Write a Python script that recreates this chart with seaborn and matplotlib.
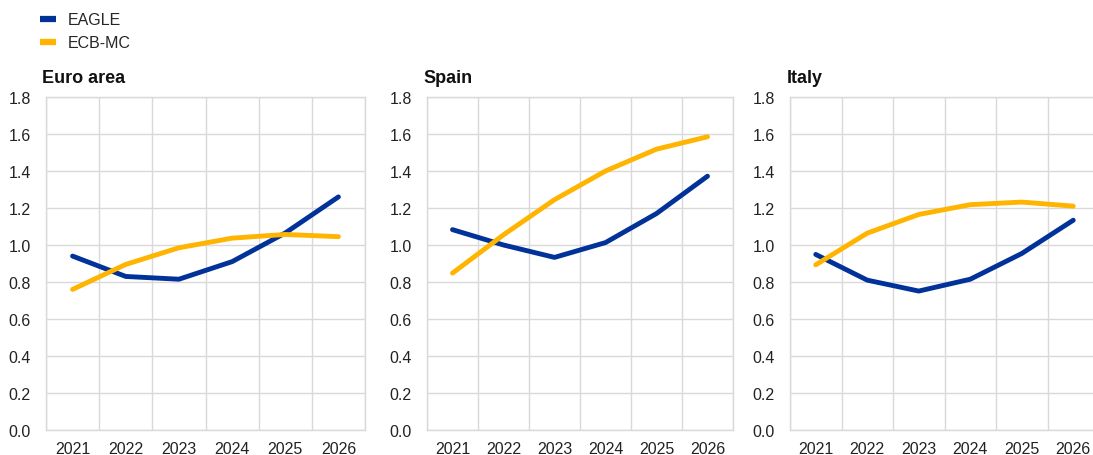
import matplotlib
matplotlib.use("Agg")
import matplotlib.pyplot as plt
import seaborn as sns
import pandas as pd
from matplotlib.ticker import FixedLocator
from matplotlib.lines import Line2D

years = ["2021", "2022", "2023", "2024", "2025", "2026"]
panels = ["Euro area", "Spain", "Italy"]
series_names = ["EAGLE", "ECB-MC"]

euro_eagle = [0.94, 0.83, 0.815, 0.91, 1.065, 1.26]
euro_ecbmc = [0.76, 0.895, 0.985, 1.037, 1.057, 1.045]
spain_eagle = [1.083, 1.0, 0.933, 1.013, 1.17, 1.372]
spain_ecbmc = [0.848, 1.055, 1.245, 1.40, 1.518, 1.585]
italy_eagle = [0.949, 0.81, 0.751, 0.815, 0.954, 1.134]
italy_ecbmc = [0.893, 1.064, 1.165, 1.218, 1.232, 1.21]
y_ticks = [0.0, 0.2, 0.4, 0.6, 0.8, 1.0, 1.2, 1.4, 1.6, 1.8]

values = {
    "Euro area": (euro_eagle, euro_ecbmc),
    "Spain": (spain_eagle, spain_ecbmc),
    "Italy": (italy_eagle, italy_ecbmc),
}

colors = {"EAGLE": "#003299", "ECB-MC": "#FFB400"}
grid_color = "#d9d9d9"

sns.set_theme(style="white")
plt.rcParams["font.family"] = ["Liberation Sans", "DejaVu Sans"]

fig = plt.figure(figsize=(10.93, 4.56), dpi=100)
positions = [
    [46 / 1093, 1 - 431 / 456, 319 / 1093, 333 / 456],
    [427 / 1093, 1 - 431 / 456, 306 / 1093, 333 / 456],
    [790 / 1093, 1 - 431 / 456, 309 / 1093, 333 / 456],
]

for pos, name in zip(positions, panels):
    ax = fig.add_axes(pos)
    eagle, ecbmc = values[name]
    df = pd.DataFrame({
        "year": years * 2,
        "value": list(eagle) + list(ecbmc),
        "series": ["EAGLE"] * len(years) + ["ECB-MC"] * len(years),
    })
    sns.lineplot(data=df, x="year", y="value", hue="series", hue_order=series_names,
                 palette=colors, linewidth=3.5, ax=ax, legend=False, sort=False,
                 solid_capstyle="round", zorder=3)
    ax.set_xlim(-0.5, len(years) - 0.5)
    ax.set_ylim(0, 1.8)
    ax.set_yticks(y_ticks)
    ax.set_yticklabels([f"{v:.1f}" for v in y_ticks])
    ax.xaxis.set_minor_locator(FixedLocator([i + 0.5 for i in range(-1, len(years))]))
    ax.grid(False)
    ax.grid(axis="y", which="major", color=grid_color, linewidth=1)
    ax.grid(axis="x", which="minor", color=grid_color, linewidth=1)
    for s in ax.spines.values():
        s.set_visible(True)
        s.set_color(grid_color)
        s.set_linewidth(1)
    ax.tick_params(axis="both", which="both", length=0, labelsize=11.5, colors="#222222")
    ax.tick_params(axis="y", pad=11)
    ax.tick_params(axis="x", pad=8)
    ax.set_xlabel("")
    ax.set_ylabel("")
    ax.set_title(name, loc="left", fontweight="bold", fontsize=13, x=-0.012,
                 pad=11, color="#111111")

handles = [Line2D([0], [0], color=colors[n], linewidth=4.5, solid_capstyle="butt")
           for n in series_names]
fig.legend(handles, series_names, loc="upper left", bbox_to_anchor=(0.026, 0.995),
           frameon=False, fontsize=11.5, handlelength=1.0, handletextpad=0.75,
           labelspacing=0.5, borderaxespad=0.3)

fig.savefig("out.png", dpi=100)
